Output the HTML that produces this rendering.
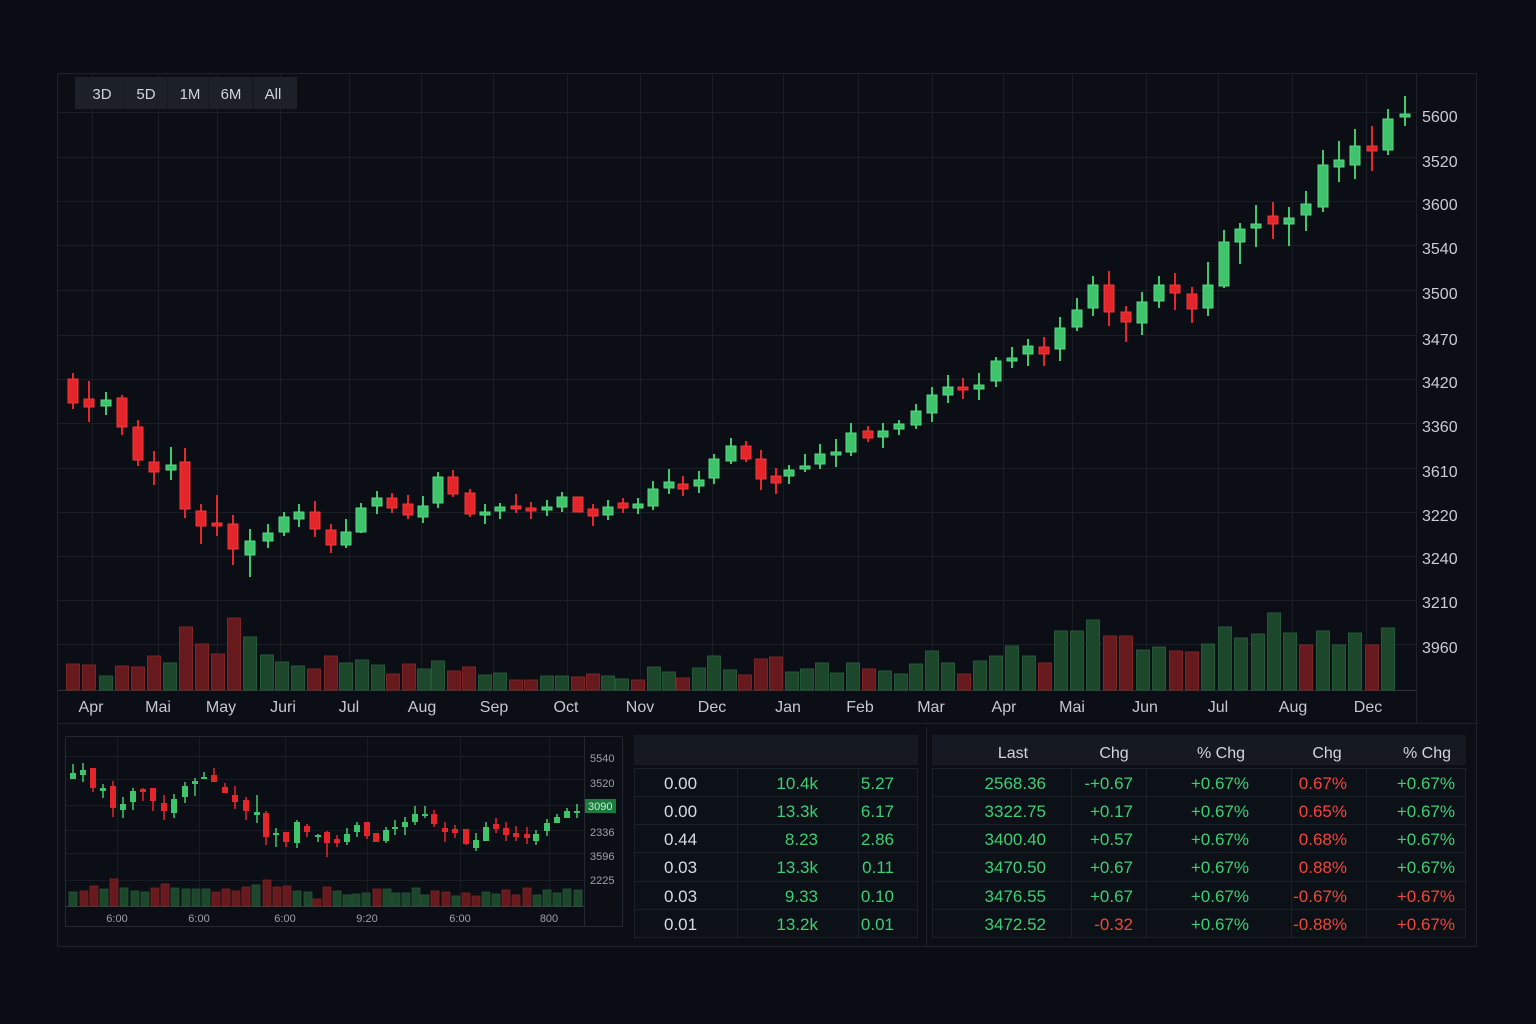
<!DOCTYPE html>
<html><head><meta charset="utf-8"><style>
html,body{margin:0;padding:0;background:#0a0d13;}
svg{display:block;font-family:"Liberation Sans",sans-serif;}
</style></head><body>
<svg width="1536" height="1024" viewBox="0 0 1536 1024" xmlns="http://www.w3.org/2000/svg">
<rect x="0" y="0" width="1536" height="1024" fill="#0a0d13"/>
<rect x="57.5" y="73.5" width="1419" height="873" fill="#0b0e15" stroke="#1d222b"/>
<!-- main grid -->
<g stroke="#181d26" stroke-width="1">
<path d="M58 112.5H1416M58 157.5H1416M58 201.5H1416M58 245.5H1416M58 290.5H1416M58 335.5H1416M58 379.5H1416M58 423.5H1416M58 468.5H1416M58 512.5H1416M58 556.5H1416M58 600.5H1416M58 644.5H1416"/>
<path d="M92.5 74V690M158.5 74V690M217.5 74V690M280.5 74V690M349.5 74V690M421.5 74V690M493.5 74V690M567.5 74V690M640.5 74V690M712.5 74V690M783.5 74V690M858.5 74V690M932.5 74V690M1003.5 74V690M1072.5 74V690M1146.5 74V690M1218.5 74V690M1292.5 74V690M1366.5 74V690"/>
</g>
<path d="M1416.5 74V723" stroke="#1d222b"/>
<path d="M58 690.5H1416" stroke="#2b313b"/>
<path d="M58 723.5H1476" stroke="#1d222b"/>
<!-- buttons -->
<rect x="75" y="77" width="222" height="32" fill="#151920"/>
<g fill="#1b2029">
<rect x="75" y="77" width="49" height="32"/><rect x="125" y="77" width="42" height="32"/><rect x="168" y="77" width="40" height="32"/><rect x="209" y="77" width="43" height="32"/><rect x="254" y="77" width="43" height="32"/>
</g>
<g fill="#cfd3da" font-size="15" text-anchor="middle">
<text x="102" y="99">3D</text><text x="146" y="99">5D</text><text x="190" y="99">1M</text><text x="231" y="99">6M</text><text x="273" y="99">All</text>
</g>
<!-- volume bars -->
<g fill="#1d472b" stroke="#25573a" stroke-width="1">
<rect x="99.5" y="676" width="13" height="14"/><rect x="163.5" y="663" width="13" height="27"/><rect x="243.5" y="637" width="13" height="53"/><rect x="260.5" y="655" width="13" height="35"/><rect x="275.5" y="662" width="13" height="28"/><rect x="291.5" y="666" width="13" height="24"/><rect x="339.5" y="663" width="13" height="27"/><rect x="355.5" y="660" width="13" height="30"/><rect x="371.5" y="665" width="13" height="25"/><rect x="417.5" y="669" width="13" height="21"/><rect x="431.5" y="661" width="13" height="29"/><rect x="478.5" y="675" width="13" height="15"/><rect x="493.5" y="673" width="13" height="17"/><rect x="540.5" y="676" width="13" height="14"/><rect x="555.5" y="676" width="13" height="14"/><rect x="601.5" y="676" width="13" height="14"/><rect x="615.5" y="679" width="13" height="11"/><rect x="647.5" y="667" width="13" height="23"/><rect x="662.5" y="672" width="13" height="18"/><rect x="692.5" y="668" width="13" height="22"/><rect x="707.5" y="656" width="13" height="34"/><rect x="723.5" y="670" width="13" height="20"/><rect x="785.5" y="672" width="13" height="18"/><rect x="800.5" y="669" width="13" height="21"/><rect x="815.5" y="663" width="13" height="27"/><rect x="830.5" y="673" width="13" height="17"/><rect x="846.5" y="663" width="13" height="27"/><rect x="878.5" y="671" width="13" height="19"/><rect x="894.5" y="674" width="13" height="16"/><rect x="909.5" y="664" width="13" height="26"/><rect x="925.5" y="651" width="13" height="39"/><rect x="941.5" y="663" width="13" height="27"/><rect x="973.5" y="661" width="13" height="29"/><rect x="989.5" y="656" width="13" height="34"/><rect x="1005.5" y="646" width="13" height="44"/><rect x="1022.5" y="656" width="13" height="34"/><rect x="1054.5" y="631" width="13" height="59"/><rect x="1070.5" y="631" width="13" height="59"/><rect x="1086.5" y="620" width="13" height="70"/><rect x="1136.5" y="650" width="13" height="40"/><rect x="1152.5" y="647" width="13" height="43"/><rect x="1201.5" y="644" width="13" height="46"/><rect x="1218.5" y="627" width="13" height="63"/><rect x="1234.5" y="638" width="13" height="52"/><rect x="1251.5" y="634" width="13" height="56"/><rect x="1267.5" y="613" width="13" height="77"/><rect x="1283.5" y="633" width="13" height="57"/><rect x="1316.5" y="631" width="13" height="59"/><rect x="1332.5" y="645" width="13" height="45"/><rect x="1348.5" y="633" width="13" height="57"/><rect x="1381.5" y="628" width="13" height="62"/>
</g>
<g fill="#661a1d" stroke="#7d2427" stroke-width="1">
<rect x="66.5" y="664" width="13" height="26"/><rect x="82.5" y="665" width="13" height="25"/><rect x="115.5" y="666" width="13" height="24"/><rect x="131.5" y="667" width="13" height="23"/><rect x="147.5" y="656" width="13" height="34"/><rect x="179.5" y="627" width="13" height="63"/><rect x="195.5" y="644" width="13" height="46"/><rect x="211.5" y="654" width="13" height="36"/><rect x="227.5" y="618" width="13" height="72"/><rect x="307.5" y="669" width="13" height="21"/><rect x="324.5" y="656" width="13" height="34"/><rect x="386.5" y="674" width="13" height="16"/><rect x="402.5" y="664" width="13" height="26"/><rect x="447.5" y="671" width="13" height="19"/><rect x="462.5" y="667" width="13" height="23"/><rect x="509.5" y="680" width="13" height="10"/><rect x="524.5" y="680" width="13" height="10"/><rect x="571.5" y="677" width="13" height="13"/><rect x="586.5" y="674" width="13" height="16"/><rect x="631.5" y="680" width="13" height="10"/><rect x="676.5" y="678" width="13" height="12"/><rect x="738.5" y="675" width="13" height="15"/><rect x="754.5" y="659" width="13" height="31"/><rect x="769.5" y="657" width="13" height="33"/><rect x="862.5" y="669" width="13" height="21"/><rect x="957.5" y="674" width="13" height="16"/><rect x="1038.5" y="663" width="13" height="27"/><rect x="1103.5" y="636" width="13" height="54"/><rect x="1119.5" y="636" width="13" height="54"/><rect x="1169.5" y="651" width="13" height="39"/><rect x="1185.5" y="652" width="13" height="38"/><rect x="1299.5" y="645" width="13" height="45"/><rect x="1365.5" y="645" width="13" height="45"/>
</g>
<!-- candles -->
<path fill="none" stroke="#41c86f" stroke-width="2" d="M106 392V415M171 447V480M250 529V577M268 524V548M284 512V536M299 504V527M346 519V548M361 503V533M377 491V514M423 496V523M438 472V508M485 504V524M500 503V519M547 500V516M562 492V512M608 500V520M638 498V514M653 481V510M669 469V494M699 471V493M714 454V484M731 438V464M789 465V484M805 454V472M820 444V469M836 439V467M851 423V456M883 423V448M899 420V435M916 404V429M932 387V422M948 375V403M979 373V400M996 357V387M1012 347V368M1028 339V366M1060 317V361M1077 298V331M1093 276V316M1142 292V335M1159 276V308M1208 262V316M1224 230V288M1240 223V264M1256 205V247M1289 207V246M1306 191V231M1323 150V212M1339 141V182M1355 129V179M1388 109V155M1405 96V126"/>
<path fill="none" stroke="#e5262b" stroke-width="2" d="M73 373V409M89 381V422M122 395V435M138 420V466M154 451V485M185 448V518M201 504V544M217 495V536M233 515V565M315 501V537M331 524V553M392 493V513M408 495V519M453 470V497M470 489V517M516 494V513M531 502V519M578 497V512M593 504V526M623 498V513M683 476V496M746 441V462M761 450V490M776 468V494M868 426V442M963 378V399M1044 337V366M1109 271V326M1126 306V342M1175 273V310M1192 287V323M1273 202V239M1372 126V171"/>
<g fill="#3fc46c" stroke="#58d985" stroke-width="1">
<rect x="101" y="400" width="10" height="6"/><rect x="166" y="465" width="10" height="5"/><rect x="245" y="541" width="10" height="14"/><rect x="263" y="533" width="10" height="8"/><rect x="279" y="517" width="10" height="15"/><rect x="294" y="512" width="10" height="7"/><rect x="341" y="532" width="10" height="13"/><rect x="356" y="508" width="10" height="24"/><rect x="372" y="498" width="10" height="8"/><rect x="418" y="506" width="10" height="11"/><rect x="433" y="477" width="10" height="26"/><rect x="480" y="512" width="10" height="3"/><rect x="495" y="507" width="10" height="4"/><rect x="542" y="507" width="10" height="3"/><rect x="557" y="497" width="10" height="10"/><rect x="603" y="507" width="10" height="8"/><rect x="633" y="504" width="10" height="4"/><rect x="648" y="489" width="10" height="17"/><rect x="664" y="482" width="10" height="6"/><rect x="694" y="480" width="10" height="6"/><rect x="709" y="459" width="10" height="19"/><rect x="726" y="446" width="10" height="15"/><rect x="784" y="470" width="10" height="6"/><rect x="800" y="466" width="10" height="3"/><rect x="815" y="454" width="10" height="10"/><rect x="831" y="452" width="10" height="3"/><rect x="846" y="433" width="10" height="19"/><rect x="878" y="431" width="10" height="6"/><rect x="894" y="424" width="10" height="5"/><rect x="911" y="411" width="10" height="14"/><rect x="927" y="395" width="10" height="18"/><rect x="943" y="387" width="10" height="8"/><rect x="974" y="385" width="10" height="4"/><rect x="991" y="361" width="10" height="20"/><rect x="1007" y="358" width="10" height="3"/><rect x="1023" y="346" width="10" height="8"/><rect x="1055" y="328" width="10" height="21"/><rect x="1072" y="310" width="10" height="17"/><rect x="1088" y="285" width="10" height="23"/><rect x="1137" y="302" width="10" height="21"/><rect x="1154" y="285" width="10" height="16"/><rect x="1203" y="285" width="10" height="23"/><rect x="1219" y="242" width="10" height="44"/><rect x="1235" y="229" width="10" height="13"/><rect x="1251" y="224" width="10" height="4"/><rect x="1284" y="218" width="10" height="6"/><rect x="1301" y="204" width="10" height="11"/><rect x="1318" y="165" width="10" height="42"/><rect x="1334" y="160" width="10" height="7"/><rect x="1350" y="146" width="10" height="19"/><rect x="1383" y="119" width="10" height="31"/><rect x="1400" y="114" width="10" height="3"/>
</g>
<g fill="#e4262a" stroke="#ef3a3a" stroke-width="1">
<rect x="68" y="379" width="10" height="24"/><rect x="84" y="399" width="10" height="8"/><rect x="117" y="398" width="10" height="29"/><rect x="133" y="427" width="10" height="33"/><rect x="149" y="462" width="10" height="10"/><rect x="180" y="462" width="10" height="47"/><rect x="196" y="511" width="10" height="15"/><rect x="212" y="523" width="10" height="3"/><rect x="228" y="524" width="10" height="25"/><rect x="310" y="512" width="10" height="17"/><rect x="326" y="530" width="10" height="15"/><rect x="387" y="498" width="10" height="10"/><rect x="403" y="504" width="10" height="11"/><rect x="448" y="477" width="10" height="17"/><rect x="465" y="493" width="10" height="21"/><rect x="511" y="506" width="10" height="3"/><rect x="526" y="508" width="10" height="3"/><rect x="573" y="497" width="10" height="15"/><rect x="588" y="509" width="10" height="7"/><rect x="618" y="503" width="10" height="5"/><rect x="678" y="484" width="10" height="5"/><rect x="741" y="446" width="10" height="13"/><rect x="756" y="459" width="10" height="20"/><rect x="771" y="476" width="10" height="7"/><rect x="863" y="431" width="10" height="7"/><rect x="958" y="387" width="10" height="3"/><rect x="1039" y="347" width="10" height="7"/><rect x="1104" y="285" width="10" height="27"/><rect x="1121" y="312" width="10" height="10"/><rect x="1170" y="285" width="10" height="8"/><rect x="1187" y="294" width="10" height="15"/><rect x="1268" y="216" width="10" height="8"/><rect x="1367" y="146" width="10" height="5"/>
</g>
<!-- right axis labels -->
<g fill="#c9cdd5" font-size="16">
<text x="1422" y="122">5600</text><text x="1422" y="167">3520</text><text x="1422" y="210">3600</text><text x="1422" y="254">3540</text><text x="1422" y="299">3500</text><text x="1422" y="345">3470</text><text x="1422" y="388">3420</text><text x="1422" y="432">3360</text><text x="1422" y="477">3610</text><text x="1422" y="521">3220</text><text x="1422" y="564">3240</text><text x="1422" y="608">3210</text><text x="1422" y="653">3960</text>
</g>
<!-- month labels -->
<g fill="#c4c8d0" font-size="16" text-anchor="middle">
<text x="91" y="712">Apr</text><text x="158" y="712">Mai</text><text x="221" y="712">May</text><text x="283" y="712">Juri</text><text x="349" y="712">Jul</text><text x="422" y="712">Aug</text><text x="494" y="712">Sep</text><text x="566" y="712">Oct</text><text x="640" y="712">Nov</text><text x="712" y="712">Dec</text><text x="788" y="712">Jan</text><text x="860" y="712">Feb</text><text x="931" y="712">Mar</text><text x="1004" y="712">Apr</text><text x="1072" y="712">Mai</text><text x="1145" y="712">Jun</text><text x="1218" y="712">Jul</text><text x="1293" y="712">Aug</text><text x="1368" y="712">Dec</text>
</g>

<!-- mini chart panel -->
<rect x="65.5" y="736.5" width="557" height="190" fill="#0b0e15" stroke="#232933"/>
<g stroke="#171c25">
<path d="M66 756.5H584M66 779.5H584M66 805.5H584M66 830.5H584M66 853.5H584M66 880.5H584"/>
<path d="M117.5 737V906M199.5 737V906M285.5 737V906M367.5 737V906M460.5 737V906M549.5 737V906"/>
</g>
<path d="M584.5 737V926" stroke="#232933"/>
<path d="M66 906.5H584" stroke="#353b45"/>
<g fill="#1d472b" stroke="#25573a" stroke-width="0.8">
<rect x="69" y="892" width="8" height="14"/><rect x="100" y="889" width="8" height="17"/><rect x="120" y="888" width="8" height="18"/><rect x="131" y="891" width="8" height="15"/><rect x="141" y="892" width="8" height="14"/><rect x="171" y="888" width="8" height="18"/><rect x="182" y="889" width="8" height="17"/><rect x="192" y="889" width="8" height="17"/><rect x="202" y="889" width="8" height="17"/><rect x="252" y="885" width="8" height="21"/><rect x="293" y="891" width="8" height="15"/><rect x="304" y="892" width="8" height="14"/><rect x="333" y="891" width="8" height="15"/><rect x="343" y="895" width="8" height="11"/><rect x="352" y="894" width="8" height="12"/><rect x="362" y="893" width="8" height="13"/><rect x="383" y="889" width="8" height="17"/><rect x="392" y="893" width="8" height="13"/><rect x="402" y="893" width="8" height="13"/><rect x="412" y="888" width="8" height="18"/><rect x="421" y="895" width="8" height="11"/><rect x="452" y="896" width="8" height="10"/><rect x="482" y="892" width="8" height="14"/><rect x="492" y="894" width="8" height="12"/><rect x="533" y="895" width="8" height="11"/><rect x="543" y="890" width="8" height="16"/><rect x="553" y="893" width="8" height="13"/><rect x="563" y="889" width="8" height="17"/><rect x="574" y="890" width="8" height="16"/>
</g>
<g fill="#661a1d" stroke="#7d2427" stroke-width="0.8">
<rect x="80" y="891" width="8" height="15"/><rect x="90" y="886" width="8" height="20"/><rect x="110" y="879" width="8" height="27"/><rect x="151" y="888" width="8" height="18"/><rect x="161" y="884" width="8" height="22"/><rect x="212" y="892" width="8" height="14"/><rect x="222" y="889" width="8" height="17"/><rect x="232" y="891" width="8" height="15"/><rect x="242" y="887" width="8" height="19"/><rect x="263" y="880" width="8" height="26"/><rect x="273" y="887" width="8" height="19"/><rect x="283" y="886" width="8" height="20"/><rect x="313" y="899" width="8" height="7"/><rect x="323" y="887" width="8" height="19"/><rect x="373" y="889" width="8" height="17"/><rect x="431" y="891" width="8" height="15"/><rect x="442" y="892" width="8" height="14"/><rect x="462" y="893" width="8" height="13"/><rect x="472" y="896" width="8" height="10"/><rect x="502" y="890" width="8" height="16"/><rect x="512" y="895" width="8" height="11"/><rect x="523" y="888" width="8" height="18"/>
</g>
<path fill="none" stroke="#41c86f" stroke-width="1.5" d="M73 764V779M83 763V782M103 784V798M123 797V818M133 788V810M174 794V818M185 782V803M195 778V796M204 772V779M257 795V823M276 828V847M297 820V848M318 834V842M347 828V845M357 822V837M386 827V843M395 820V835M405 817V835M415 806V825M425 806V818M476 833V851M486 822V841M536 830V845M547 819V836M557 814V823M567 808V818M577 804V818"/>
<path fill="none" stroke="#e5262b" stroke-width="1.5" d="M93 768V792M113 781V817M143 788V801M153 788V811M164 795V820M214 768V782M225 783V793M235 786V809M246 797V820M266 811V845M286 832V847M307 824V837M327 831V857M337 835V847M367 822V839M376 833V842M434 810V827M445 822V842M455 825V838M466 829V845M496 818V833M506 822V841M516 826V841M527 827V844"/>
<g fill="#3fc46c">
<rect x="70" y="773" width="6" height="6"/><rect x="80" y="770" width="6" height="5"/><rect x="100" y="788" width="6" height="3"/><rect x="120" y="804" width="6" height="6"/><rect x="130" y="791" width="6" height="11"/><rect x="171" y="799" width="6" height="14"/><rect x="182" y="786" width="6" height="11"/><rect x="192" y="781" width="6" height="3"/><rect x="201" y="777" width="6" height="2"/><rect x="254" y="812" width="6" height="3"/><rect x="273" y="833" width="6" height="2"/><rect x="294" y="822" width="6" height="21"/><rect x="315" y="835" width="6" height="2"/><rect x="344" y="834" width="6" height="8"/><rect x="354" y="825" width="6" height="7"/><rect x="383" y="830" width="6" height="11"/><rect x="392" y="827" width="6" height="2"/><rect x="402" y="822" width="6" height="5"/><rect x="412" y="814" width="6" height="8"/><rect x="422" y="814" width="6" height="2"/><rect x="473" y="840" width="6" height="8"/><rect x="483" y="827" width="6" height="14"/><rect x="533" y="834" width="6" height="7"/><rect x="544" y="823" width="6" height="8"/><rect x="554" y="817" width="6" height="6"/><rect x="564" y="811" width="6" height="7"/><rect x="574" y="811" width="6" height="2"/>
</g>
<g fill="#e4262a">
<rect x="90" y="768" width="6" height="20"/><rect x="110" y="786" width="6" height="22"/><rect x="140" y="789" width="6" height="3"/><rect x="150" y="788" width="6" height="13"/><rect x="161" y="803" width="6" height="8"/><rect x="211" y="775" width="6" height="7"/><rect x="222" y="787" width="6" height="6"/><rect x="232" y="795" width="6" height="7"/><rect x="243" y="800" width="6" height="11"/><rect x="263" y="813" width="6" height="24"/><rect x="283" y="832" width="6" height="10"/><rect x="304" y="826" width="6" height="6"/><rect x="324" y="832" width="6" height="11"/><rect x="334" y="839" width="6" height="4"/><rect x="364" y="822" width="6" height="14"/><rect x="373" y="833" width="6" height="9"/><rect x="431" y="814" width="6" height="10"/><rect x="442" y="828" width="6" height="4"/><rect x="452" y="829" width="6" height="4"/><rect x="463" y="829" width="6" height="15"/><rect x="493" y="824" width="6" height="5"/><rect x="503" y="828" width="6" height="7"/><rect x="513" y="833" width="6" height="4"/><rect x="524" y="834" width="6" height="4"/>
</g>
<g fill="#9ca1aa" font-size="11">
<text x="590" y="762">5540</text><text x="590" y="787">3520</text><text x="590" y="836">2336</text><text x="590" y="860">3596</text><text x="590" y="884">2225</text>
</g>
<rect x="585" y="799" width="31" height="14" fill="#1d7a3f"/>
<text x="588" y="810" fill="#bff2cd" font-size="11">3090</text>
<g fill="#9ca1aa" font-size="11" text-anchor="middle">
<text x="117" y="922">6:00</text><text x="199" y="922">6:00</text><text x="285" y="922">6:00</text><text x="367" y="922">9:20</text><text x="460" y="922">6:00</text><text x="549" y="922">800</text>
</g>

<!-- divider -->
<path d="M926.5 727V946" stroke="#1d222b"/>

<!-- middle table -->
<rect x="634" y="735" width="284" height="30" fill="#141922"/>
<rect x="634.5" y="768.5" width="283" height="169" fill="#0c1017" stroke="#1b212a"/>
<g stroke="#1b212a">
<path d="M635 796.5H918M635 824.5H918M635 852.5H918M635 881.5H918M635 909.5H918"/>
<path d="M737.5 769V937M858.5 769V937"/>
</g>
<g font-size="17">
<g fill="#d8dce4">
<text x="664" y="789">0.00</text><text x="664" y="817">0.00</text><text x="664" y="845">0.44</text><text x="664" y="873">0.03</text><text x="664" y="902">0.03</text><text x="664" y="930">0.01</text>
</g>
<g fill="#3ccf74" text-anchor="end">
<text x="818" y="789">10.4k</text><text x="818" y="817">13.3k</text><text x="818" y="845">8.23</text><text x="818" y="873">13.3k</text><text x="818" y="902">9.33</text><text x="818" y="930">13.2k</text>
<text x="894" y="789">5.27</text><text x="894" y="817">6.17</text><text x="894" y="845">2.86</text><text x="894" y="873">0.11</text><text x="894" y="902">0.10</text><text x="894" y="930">0.01</text>
</g>
</g>

<!-- right table -->
<rect x="932" y="735" width="534" height="30" fill="#141922"/>
<rect x="932.5" y="768.5" width="533" height="169" fill="#0c1017" stroke="#1b212a"/>
<g stroke="#1b212a">
<path d="M933 796.5H1466M933 824.5H1466M933 852.5H1466M933 881.5H1466M933 909.5H1466"/>
<path d="M1071.5 769V937M1146.5 769V937M1291.5 769V937M1366.5 769V937"/>
</g>
<g fill="#d2d6de" font-size="16" text-anchor="middle">
<text x="1013" y="758">Last</text><text x="1114" y="758">Chg</text><text x="1221" y="758">% Chg</text><text x="1327" y="758">Chg</text><text x="1427" y="758">% Chg</text>
</g>
<g font-size="17" text-anchor="end">
<g fill="#3ccf74">
<text x="1046" y="789">2568.36</text><text x="1046" y="817">3322.75</text><text x="1046" y="845">3400.40</text><text x="1046" y="873">3470.50</text><text x="1046" y="902">3476.55</text><text x="1046" y="930">3472.52</text>
<text x="1133" y="789">-+0.67</text><text x="1133" y="817">+0.17</text><text x="1133" y="845">+0.57</text><text x="1133" y="873">+0.67</text><text x="1133" y="902">+0.67</text>
<text x="1249" y="789">+0.67%</text><text x="1249" y="817">+0.67%</text><text x="1249" y="845">+0.67%</text><text x="1249" y="873">+0.67%</text><text x="1249" y="902">+0.67%</text><text x="1249" y="930">+0.67%</text>
<text x="1455" y="789">+0.67%</text><text x="1455" y="817">+0.67%</text><text x="1455" y="845">+0.67%</text><text x="1455" y="873">+0.67%</text>
</g>
<g fill="#f0463c">
<text x="1133" y="930">-0.32</text>
<text x="1347" y="789">0.67%</text><text x="1347" y="817">0.65%</text><text x="1347" y="845">0.68%</text><text x="1347" y="873">0.88%</text><text x="1347" y="902">-0.67%</text><text x="1347" y="930">-0.88%</text>
<text x="1455" y="902">+0.67%</text><text x="1455" y="930">+0.67%</text>
</g>
</g>
</svg>
</body></html>
